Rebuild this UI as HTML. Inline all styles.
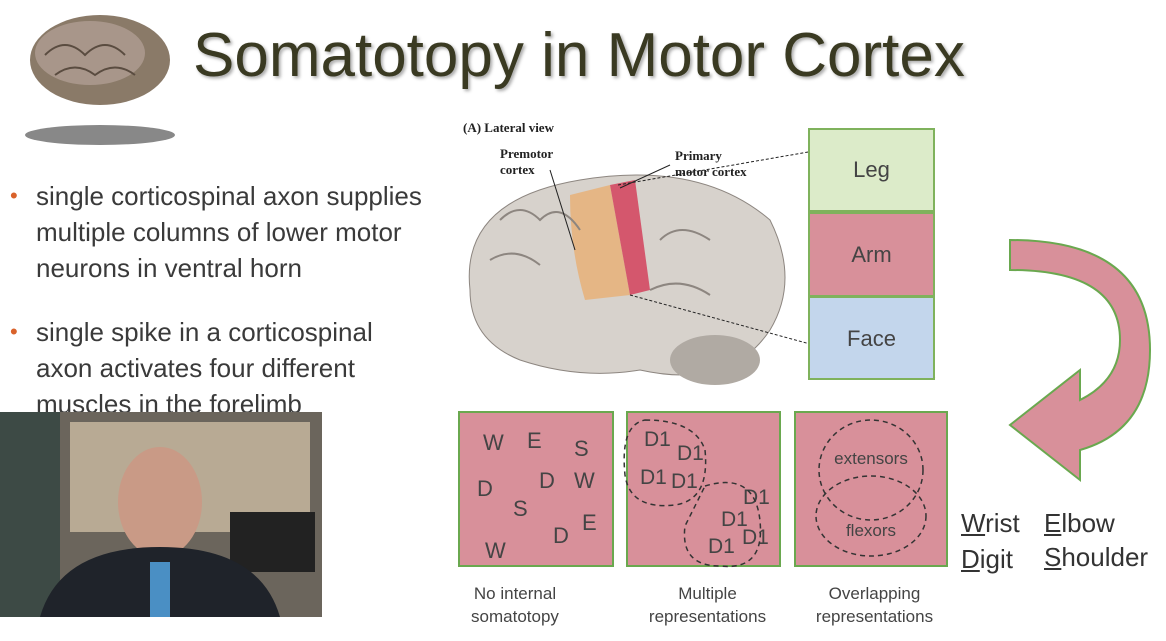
<!DOCTYPE html>
<html><head><meta charset="utf-8">
<style>
body{margin:0;width:1166px;height:641px;background:#fff;overflow:hidden;position:relative;font-family:"Liberation Sans",sans-serif}
.a{position:absolute}
.title{left:193px;top:20px;font-family:"Liberation Sans",sans-serif;font-size:62px;color:#3a3a22;text-shadow:2px 2px 3px #aaa;white-space:nowrap}
.bul{left:36px;font-size:26px;color:#3a3a3a;line-height:36px;white-space:nowrap}
.dot{position:absolute;left:-26px;top:0;color:#d9622b;font-size:22px}
.cap{font-size:17px;color:#444;text-align:center;line-height:23px}
.wl{font-size:26px;color:#333}
</style></head><body>
<svg class="a" style="left:15px;top:5px" width="175" height="150">
<ellipse cx="85" cy="130" rx="75" ry="10" fill="#555" opacity=".7"/>
<ellipse cx="85" cy="55" rx="70" ry="45" fill="#8a7a68"/>
<ellipse cx="75" cy="48" rx="55" ry="32" fill="#a8968a"/>
<path d="M30 50 q20 -20 40 0 q20 -20 40 0 M40 70 q20 -15 40 0 q20 -15 40 0" stroke="#5a4c40" fill="none" stroke-width="2"/>
</svg>
<div class="a title">Somatotopy in Motor Cortex</div>
<div class="a bul" style="top:178px"><span class="dot">•</span>single corticospinal axon supplies<br>multiple columns of lower motor<br>neurons in ventral horn</div>
<div class="a bul" style="top:314px"><span class="dot">•</span>single spike in a corticospinal<br>axon activates four different<br>muscles in the forelimb</div>
<svg class="a" style="left:0;top:412px" width="322" height="205">
<rect width="322" height="205" fill="#6b655c"/>
<rect x="0" y="0" width="60" height="205" fill="#3d4a45"/>
<rect x="70" y="10" width="240" height="110" fill="#b8aa94"/>
<rect x="230" y="100" width="85" height="60" fill="#222"/>
<ellipse cx="160" cy="90" rx="42" ry="55" fill="#c99a86"/>
<path d="M40 205 q20 -70 120 -70 q100 0 120 70z" fill="#1f232a"/>
<rect x="150" y="150" width="20" height="55" fill="#4a8fc4"/>
</svg>
<div class="a" style="left:463px;top:120px;font-family:'Liberation Serif',serif;font-size:13px;font-weight:bold;color:#222">(A) Lateral view</div>
<div class="a" style="left:500px;top:146px;font-family:'Liberation Serif',serif;font-size:13px;font-weight:bold;color:#222;line-height:16px">Premotor<br>cortex</div>
<div class="a" style="left:675px;top:148px;font-family:'Liberation Serif',serif;font-size:13px;font-weight:bold;color:#222;line-height:16px">Primary<br>motor cortex</div>
<svg class="a" style="left:460px;top:120px" width="490" height="280">
<path d="M10 170 q-10 -90 110 -110 q120 -20 190 40 q30 60 0 110 q-40 60 -130 40 q-60 10 -120 -10 q-50 -20 -50 -70z" fill="#d7d2cc" stroke="#8d8680"/>
<ellipse cx="255" cy="240" rx="45" ry="25" fill="#b0aaa3"/>
<path d="M110 75 l40 -10 l20 110 l-45 5 q-15 -50 -15 -105z" fill="#e5b685"/>
<path d="M150 65 l25 -5 l15 110 l-20 5z" fill="#d4576d"/>
<path d="M40 100 q20 -20 40 0 q20 -20 40 10 M30 140 q25 -15 50 5 M200 120 q20 -20 50 0 M190 170 q30 -15 60 5" stroke="#8d8680" fill="none" stroke-width="2"/>
<line x1="90" y1="50" x2="115" y2="130" stroke="#222"/>
<line x1="160" y1="68" x2="210" y2="45" stroke="#222"/>
<line x1="158" y1="65" x2="475" y2="10" stroke="#222" stroke-dasharray="3,2"/>
<line x1="170" y1="175" x2="475" y2="258" stroke="#222" stroke-dasharray="3,2"/>
</svg>
<div class="a" style="left:808px;top:128px;width:127px;height:84px;background:#dcebc9;border:2px solid #7fb25c;box-sizing:border-box;font-size:22px;color:#444;text-align:center;line-height:80px">Leg</div>
<div class="a" style="left:808px;top:212px;width:127px;height:85px;background:#d8909a;border:2px solid #7fb25c;box-sizing:border-box;font-size:22px;color:#444;text-align:center;line-height:82px">Arm</div>
<div class="a" style="left:808px;top:296px;width:127px;height:84px;background:#c3d6ec;border:2px solid #7fb25c;box-sizing:border-box;font-size:22px;color:#444;text-align:center;line-height:82px">Face</div>
<svg class="a" style="left:1000px;top:230px" width="166" height="260">
<path d="M10 10 q140 0 140 110 q0 80 -70 100 l0 30 l-70 -55 l70 -55 l0 30 q40 -20 40 -60 q0 -70 -110 -70z" fill="#d8909a" stroke="#6aa84f" stroke-width="2"/>
</svg>
<svg class="a" style="left:455px;top:408px" width="500" height="165" font-family="Liberation Sans" font-size="22" fill="#444">
<rect x="4" y="4" width="154" height="154" fill="#d8909a" stroke="#6aa84f" stroke-width="2"/>
<rect x="172" y="4" width="153" height="154" fill="#d8909a" stroke="#6aa84f" stroke-width="2"/>
<rect x="340" y="4" width="152" height="154" fill="#d8909a" stroke="#6aa84f" stroke-width="2"/>
<g fill="#444"><text x="28" y="42">W</text><text x="72" y="40">E</text><text x="119" y="48">S</text>
<text x="22" y="88">D</text><text x="84" y="80">D</text><text x="119" y="80">W</text><text x="58" y="108">S</text><text x="127" y="122">E</text><text x="98" y="135">D</text><text x="30" y="150">W</text></g>
<g font-size="21"><text x="189" y="38">D1</text><text x="222" y="52">D1</text><text x="185" y="76">D1</text><text x="216" y="80">D1</text>
<text x="288" y="96">D1</text><text x="266" y="118">D1</text><text x="253" y="145">D1</text><text x="287" y="136">D1</text></g>
<path d="M190 12 q50 0 60 30 q5 50 -30 55 q-45 5 -50 -30 q-5 -50 20 -55z M250 78 q50 -15 55 35 q5 50 -40 45 q-40 0 -35 -40z" fill="none" stroke="#333" stroke-width="1.5" stroke-dasharray="5,4"/>
<ellipse cx="416" cy="62" rx="52" ry="50" fill="none" stroke="#333" stroke-width="1.5" stroke-dasharray="5,4"/>
<ellipse cx="416" cy="108" rx="55" ry="40" fill="none" stroke="#333" stroke-width="1.5" stroke-dasharray="5,4"/>
<text x="416" y="56" text-anchor="middle" font-size="17">extensors</text>
<text x="416" y="128" text-anchor="middle" font-size="17">flexors</text>
</svg>
<div class="a cap" style="left:455px;top:582px;width:120px">No internal<br>somatotopy</div>
<div class="a cap" style="left:625px;top:582px;width:165px">Multiple<br>representations</div>
<div class="a cap" style="left:792px;top:582px;width:165px">Overlapping<br>representations</div>
<div class="a wl" style="left:961px;top:508px"><u>W</u>rist</div>
<div class="a wl" style="left:1044px;top:508px"><u>E</u>lbow</div>
<div class="a wl" style="left:961px;top:544px"><u>D</u>igit</div>
<div class="a wl" style="left:1044px;top:542px"><u>S</u>houlder</div>
</body></html>
